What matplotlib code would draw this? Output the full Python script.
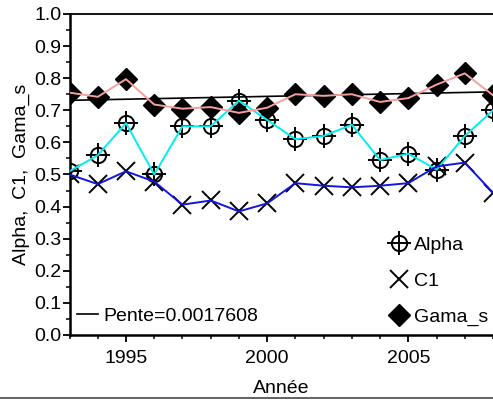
import matplotlib
matplotlib.use('Agg')

import matplotlib.pyplot as plt
import numpy as np
from matplotlib.lines import Line2D
from matplotlib.ticker import MultipleLocator

plt.rcParams['font.family'] = ['Liberation Sans', 'DejaVu Sans']

# valeurs
annees = np.arange(1993, 2009)
alpha = [0.51, 0.56, 0.66, 0.50, 0.65, 0.65, 0.73, 0.67, 0.61, 0.62, 0.655, 0.545, 0.565, 0.515, 0.62, 0.70]
c1 = [0.50, 0.47, 0.51, 0.478, 0.406, 0.419, 0.385, 0.41, 0.473, 0.465, 0.46, 0.465, 0.473, 0.525, 0.537, 0.443]
gama_s = [0.755, 0.742, 0.797, 0.718, 0.705, 0.71, 0.692, 0.708, 0.75, 0.745, 0.75, 0.726, 0.738, 0.78, 0.815, 0.747]
pente = 0.0017608
ordonnee = 0.731  # valeur de la droite en 1993

fig = plt.figure(figsize=(4.93, 4.01), dpi=100)
ax = fig.add_axes([0.141, 0.1646, 0.859, 0.8005])

# marqueurs
h_o, = ax.plot(annees, alpha, 'o', ms=11, mfc='none', mec='black', mew=1.4, zorder=2)
h_p, = ax.plot(annees, alpha, '+', ms=17, mec='black', mew=1.4, zorder=2)
h_x, = ax.plot(annees, c1, 'x', ms=13, mec='black', mew=1.4, zorder=2)
h_d, = ax.plot(annees, gama_s, 'D', ms=11, mfc='black', mec='black', zorder=2)

# droite de tendance
tendance = ordonnee + pente * (annees - annees[0])
h_t, = ax.plot(annees, tendance, color='black', lw=1.2, zorder=2.5)

# lignes colorées
ax.plot(annees, alpha, color='#00eeee', lw=1.4, zorder=3)
ax.plot(annees, c1, color='#1515e0', lw=1.4, zorder=3)
ax.plot(annees, gama_s, color='#f4a0a0', lw=1.4, zorder=3)

ax.set_xlim(1993, 2008)
ax.set_ylim(0, 1.0)
ax.xaxis.set_major_locator(MultipleLocator(5))
ax.xaxis.set_minor_locator(MultipleLocator(1))
ax.yaxis.set_major_locator(MultipleLocator(0.1))
ax.yaxis.set_minor_locator(MultipleLocator(0.05))
ax.yaxis.set_major_formatter(matplotlib.ticker.FormatStrFormatter('%.1f'))
ax.tick_params(which='major', direction='out', length=5, width=1.3, labelsize=14)
ax.tick_params(axis='x', which='major', pad=6)
ax.tick_params(axis='y', which='major', pad=1)
ax.tick_params(which='minor', direction='out', length=3, width=1.1)
ax.spines['right'].set_visible(False)
for s in ['left', 'bottom']:
    ax.spines[s].set_linewidth(1.8)
ax.spines['top'].set_linewidth(1.3)

ax.set_xlabel('Année', fontsize=14, labelpad=9)
ax.set_ylabel('Alpha,  C1,  Gama_s', fontsize=14, labelpad=3)

leg1 = ax.legend([(h_o, h_p), h_x, h_d], ['Alpha', 'C1', 'Gama_s'],
                 loc='upper left', bbox_to_anchor=(390 / 493, 1 - 236 / 401),
                 bbox_transform=fig.transFigure, frameon=False, fontsize=14,
                 handlelength=0.9, handletextpad=0.35, labelspacing=0.95,
                 borderpad=0, borderaxespad=0)
ax.add_artist(leg1)
ax.legend([h_t], ['Pente=0.0017608'], loc='upper left',
          bbox_to_anchor=(77 / 493, 1 - 307 / 401), bbox_transform=fig.transFigure,
          frameon=False, fontsize=14, handlelength=1.1, handletextpad=0.25,
          borderpad=0, borderaxespad=0)

# trait en bas de la figure
fig.add_artist(Line2D([0, 1], [0.008, 0.008], color='#555555', lw=1.3, transform=fig.transFigure))

fig.savefig('out.png', dpi=100)
